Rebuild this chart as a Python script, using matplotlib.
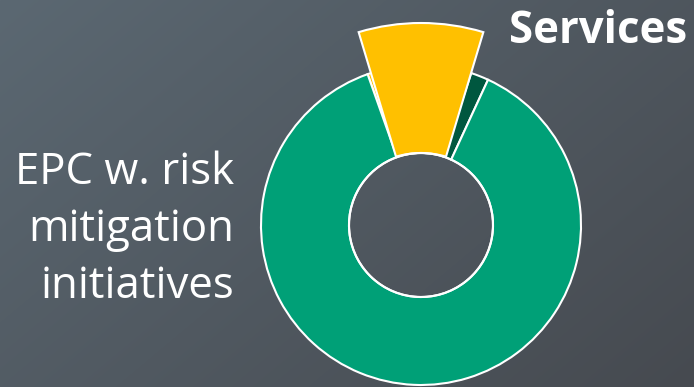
import numpy as np
import matplotlib.pyplot as plt
from matplotlib.patches import Wedge, Circle

# donut shares (percent)
labels = ["Services", "Other", "EPC w. risk mitigation initiatives"]
shares = [10.5, 1.8, 87.7]
colors = ["#FFC000", "#00573F", "#00A077"]

W, H = 694, 387
fig = plt.figure(figsize=(W / 100, H / 100), dpi=100)
ax = fig.add_axes([0, 0, 1, 1])

# diagonal background gradient
yy, xx = np.mgrid[0:1:H * 1j, 0:1:W * 1j]
t = (xx * 0.6 + yy * 0.4)[..., None]
top_left = np.array([91, 104, 114]) / 255
bottom_right = np.array([70, 74, 80]) / 255
bg = top_left * (1 - t) + bottom_right * t
ax.imshow(bg, extent=(0, W, 0, H), origin="upper", zorder=0, aspect="auto")

cx, cy = 421, H - 225
ax.pie(shares, colors=colors, startangle=109.5, counterclock=False,
       center=(cx, cy), radius=160,
       wedgeprops=dict(width=88, edgecolor="white", linewidth=1.5))

# enlarged call-out wedge for Services
pop_span = 33.4
ax.add_patch(Wedge((cx, cy - 15), 217, 90 - pop_span / 2, 90 + pop_span / 2,
                   width=130, facecolor=colors[0], edgecolor="white",
                   linewidth=1.5, zorder=3))
ax.add_patch(Circle((cx, cy), 72, fill=False, edgecolor="white",
                    linewidth=1.5, zorder=4))

ax.text(234, H - 298, "EPC w. risk\nmitigation\ninitiatives", ha="right",
        va="baseline", color="white", fontsize=31.5, family="Open Sans",
        linespacing=1.37)
ax.text(687, H - 43, labels[0], ha="right", va="baseline", color="white",
        fontsize=31.5, fontweight="bold", family="Open Sans")

ax.set_xlim(0, W)
ax.set_ylim(0, H)
ax.set_aspect("auto")
ax.axis("off")
fig.savefig("out.png", dpi=100)
